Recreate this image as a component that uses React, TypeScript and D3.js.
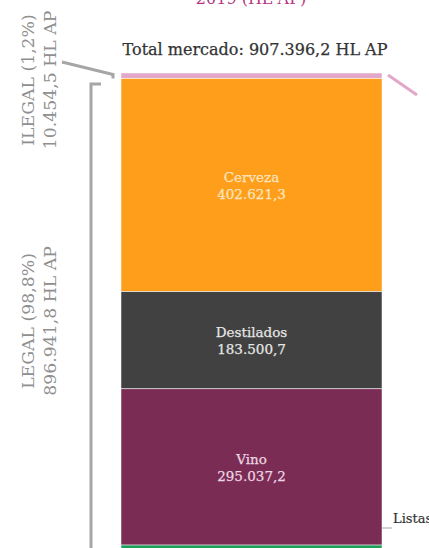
import React from "react";
import * as d3 from "d3";

const segmentNames = ["Ilegal", "Cerveza", "Destilados", "Vino", "Listas para beber"];
const segmentValues = [10454.5, 402621.3, 183500.7, 295037.2, 15782.6];
const segmentLabels = ["", "402.621,3", "183.500,7", "295.037,2", ""];
const segmentColors = ["#e3a7c9", "#fe9e1b", "#414141", "#7b2c55", "#1f9e5a"];
const labelColors = ["", "#fde4bf", "#e6e6e6", "#ecd6e2", ""];
const totalLabel = "Total mercado: 907.396,2 HL AP";
const titleText = "2019 (HL AP)";
const ilegalLines = ["ILEGAL (1,2%)", "10.454,5 HL AP"];
const legalLines = ["LEGAL (98,8%)", "896.941,8 HL AP"];

export default function App() {
  const W = 429, H = 548;
  const total = d3.sum(segmentValues);
  const y = d3.scaleLinear().domain([0, total]).range([73, 73 + 480.4]);
  const x0 = 121, x1 = 382;
  const cum = [0, ...d3.cumsum(segmentValues)];
  const serif = "'DejaVu Serif', serif";
  const legalTop = y(cum[1]);
  return (
    <svg width={W} height={H} style={{ position: "absolute", left: 0, top: 0, overflow: "hidden", background: "#fff" }}>
      <text x={251} y={4} textAnchor="middle" fontFamily={serif} fontSize={16} fill="#b5367f">{titleText}</text>
      <text x={255} y={55} textAnchor="middle" fontFamily={serif} fontSize={16} fill="#333" stroke="#333" strokeWidth={0.25}>{totalLabel}</text>
      {segmentValues.map((v, i) => (
        <rect key={i} x={x0} y={y(cum[i])} width={x1 - x0} height={y(cum[i + 1]) - y(cum[i])} fill={segmentColors[i]} stroke="#fff" strokeWidth={0.5} />
      ))}
      {segmentValues.map((v, i) => {
        if (!segmentLabels[i]) return null;
        const cy = (y(cum[i]) + y(cum[i + 1])) / 2;
        return (
          <g key={"l" + i} fontFamily={serif} fontSize={13.5} fill={labelColors[i]} stroke={labelColors[i]} strokeWidth={0.25} textAnchor="middle">
            <text x={(x0 + x1) / 2} y={cy - 3}>{segmentNames[i]}</text>
            <text x={(x0 + x1) / 2} y={cy + 14}>{segmentLabels[i]}</text>
          </g>
        );
      })}
      {/* ilegal bracket */}
      <path d={`M62,62 L113,74.5 M113,${y(0)} L113,${legalTop}`} stroke="#a6a6a6" strokeWidth={3} fill="none" />
      {/* legal bracket */}
      <path d={`M101,84 L91,84 L91,${H + 5}`} stroke="#a6a6a6" strokeWidth={3} fill="none" />
      {/* pink diagonal right */}
      <path d="M388,75 L417,95" stroke="#e3a7c9" strokeWidth={3} fill="none" />
      {/* lista leader */}
      <path d={`M${x1},528 L392,528`} stroke="#a6a6a6" strokeWidth={1} fill="none" />
      <text x={393} y={523} fontFamily={serif} fontSize={13} fill="#333" stroke="#333" strokeWidth={0.2}>{segmentNames[4]}</text>
      <g fontFamily={serif} fontSize={17.3} fill="#8f8f8f" textAnchor="middle">
        {ilegalLines.map((t, i) => (
          <text key={t} transform={`translate(${34 + i * 22},80) rotate(-90)`}>{t}</text>
        ))}
        {legalLines.map((t, i) => (
          <text key={t} transform={`translate(${34 + i * 22},321) rotate(-90)`}>{t}</text>
        ))}
      </g>
    </svg>
  );
}
